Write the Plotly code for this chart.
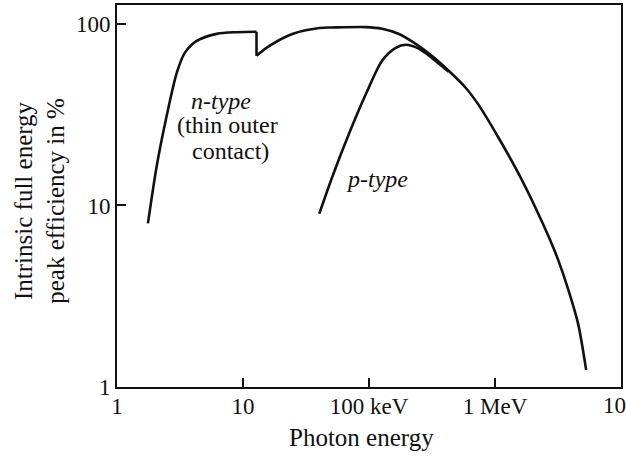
import plotly.graph_objects as go

# Photon energy (keV) and efficiency (%)
n_low_E = [1.76, 2.07, 2.48, 2.98, 3.45, 4.29, 6.18, 8.88, 12.8]
n_low_eff = [7.96, 16.6, 31.2, 53.7, 69.2, 80.6, 88.1, 90.0, 90.5]
n_edge_E = [12.8, 12.8]
n_edge_eff = [90.5, 66.7]
n_high_E = [12.8, 16.2, 24.6, 40.3, 51, 94.5, 127, 173, 235, 315, 429, 585, 741,
            1067, 1535, 2091, 2648, 3176, 3811, 4573, 5290]
n_high_eff = [66.7, 75.6, 88, 95, 95.5, 96, 94, 88, 77.6, 66.7, 55.2, 44.5, 35.8,
              23.6, 15.0, 9.75, 6.8, 5.0, 3.45, 2.22, 1.24]
p_E = [40.3, 51, 69.5, 94.7, 127, 163, 196, 248, 315, 429]
p_eff = [9.0, 14.3, 24.9, 41.2, 62.7, 73.8, 76.7, 73, 65, 54.5]

x_tickvals = [1, 10, 100, 1000]
x_ticktext = ["1", "10", "100 keV", "1 MeV"]
x_last_label = "10"
y_tickvals = [1, 10, 100]
y_ticktext = ["1", "10", "100"]

FONT = "Liberation Serif"
INK = "#111111"

fig = go.Figure()
line = dict(color=INK, width=2.6, shape="spline", smoothing=0.8)
fig.add_trace(go.Scatter(x=n_low_E, y=n_low_eff, mode="lines", line=line))
fig.add_trace(go.Scatter(x=n_edge_E, y=n_edge_eff, mode="lines",
                         line=dict(color=INK, width=2.6)))
fig.add_trace(go.Scatter(x=n_high_E, y=n_high_eff, mode="lines", line=line))
fig.add_trace(go.Scatter(x=p_E, y=p_eff, mode="lines", line=line))

axis_common = dict(
    showgrid=False, zeroline=False, showline=True, linecolor=INK, linewidth=2,
    mirror=True, ticks="inside", ticklen=9, tickwidth=1.6, tickcolor=INK,
    tickfont=dict(family=FONT, size=23, color=INK), tickmode="array",
)
fig.update_xaxes(type="log", range=[0, 4], tickvals=x_tickvals + [10000],
                 ticktext=x_ticktext + [""], ticklabelstandoff=-3, **axis_common)
fig.update_yaxes(type="log", range=[0, 2.104], tickvals=y_tickvals, ticktext=y_ticktext, **axis_common)

ann_font = dict(family=FONT, size=24, color=INK)
annotations = [
    dict(x=0.822, y=1.577, text="<i>n-type</i>"),
    dict(x=0.877, y=1.445, text="(thin outer"),
    dict(x=0.901, y=1.302, text="contact)"),
    dict(x=2.063, y=1.148, text="<i>p-type</i>"),
]
for a in annotations:
    fig.add_annotation(xref="x", yref="y", showarrow=False, font=ann_font,
                       xanchor="center", yanchor="middle", **a)

fig.add_annotation(xref="paper", yref="paper", x=(616 - 117) / 506, y=(387 - 406) / 383,
                   text=x_last_label, showarrow=False,
                   font=dict(family=FONT, size=23, color=INK),
                   xanchor="center", yanchor="middle")
fig.add_annotation(xref="paper", yref="paper", x=(362 - 117) / 506, y=(387 - 438) / 383,
                   text="Photon energy", showarrow=False, font=dict(family=FONT, size=25, color=INK),
                   xanchor="center", yanchor="middle")
fig.add_annotation(xref="paper", yref="paper", x=(40 - 117) / 506, y=(387 - 200) / 383,
                   text="Intrinsic full energy<br>peak efficiency in %", textangle=-90,
                   showarrow=False, font=dict(family=FONT, size=25, color=INK),
                   xanchor="center", yanchor="middle")

fig.update_layout(
    width=626, height=457, showlegend=False,
    margin=dict(l=117, r=3, t=4, b=70),
    paper_bgcolor="white", plot_bgcolor="white",
)
fig.write_html("out.html")
